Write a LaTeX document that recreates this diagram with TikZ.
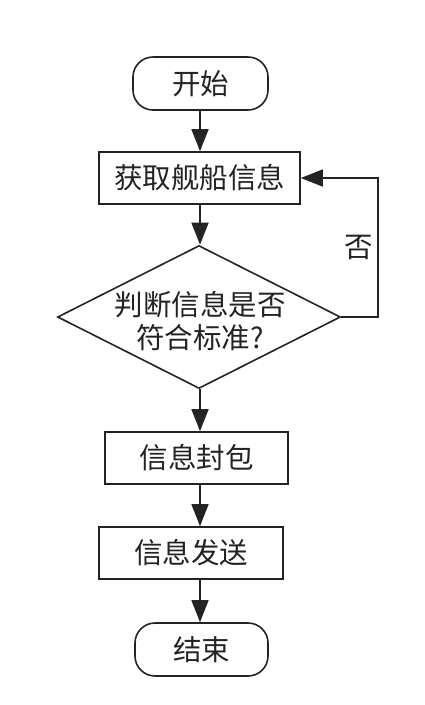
\documentclass[tikz,border=0pt]{standalone}
\usepackage{fontspec}
\setmainfont{Noto Sans CJK SC}
\usetikzlibrary{positioning}
\usetikzlibrary{shapes.geometric}
\usetikzlibrary{arrows.meta}
\definecolor{ink}{RGB}{35,35,35}

\begin{document}
\begin{tikzpicture}[
	x=1pt, y=-1pt,
	line width=1.6pt,
	draw=ink,
	every node/.style={text=ink, font=\fontsize{28.5pt}{33pt}\selectfont},
	terminal/.style={draw=ink, rounded corners=20pt, minimum height=53pt, inner sep=0pt},
	process/.style={draw=ink, minimum height=52pt, inner sep=0pt},
	flow/.style={draw=ink, -{Triangle[length=22pt,width=17pt]}}
]

	% definitions
	\def\loopx{378}

	\useasboundingbox (0,0) rectangle (424,705);

	% define nodes
	\coordinate (axis) at (200,0);
	\node[terminal, minimum width=135pt] (start) at (200.5,83.5) {开始};
	\node[process, minimum width=201pt] (fetch) at (199.5,178) {获取舰船信息};
	\node[draw=ink, diamond, minimum width=283pt, minimum height=143pt, inner sep=0pt] (judge) at (199,317) {};
	\node[align=center, inner sep=0pt] (judgetext) at (200,321) {判断信息是否\\符合标准?};
	\node[process, minimum width=183pt] (pack) at (196.5,458) {信息封包};
	\node[process, minimum width=184pt] (send) at (191,553) {信息发送};
	\node[terminal, minimum width=133pt] (stop) at (201.5,649.5) {结束};

	% draw arrows
	\foreach \a/\b in {start/fetch,fetch/judge,judge/pack,pack/send,send/stop}{
		\draw[flow] (axis |- \a.south) -- (axis |- \b.north);
	}

	% back loop
	\draw[flow] (judge.east) -- (\loopx,317) |- (fetch.east)
		node[pos=0.25, left=4pt, inner sep=0pt] (no) {否};

\end{tikzpicture}
\end{document}
